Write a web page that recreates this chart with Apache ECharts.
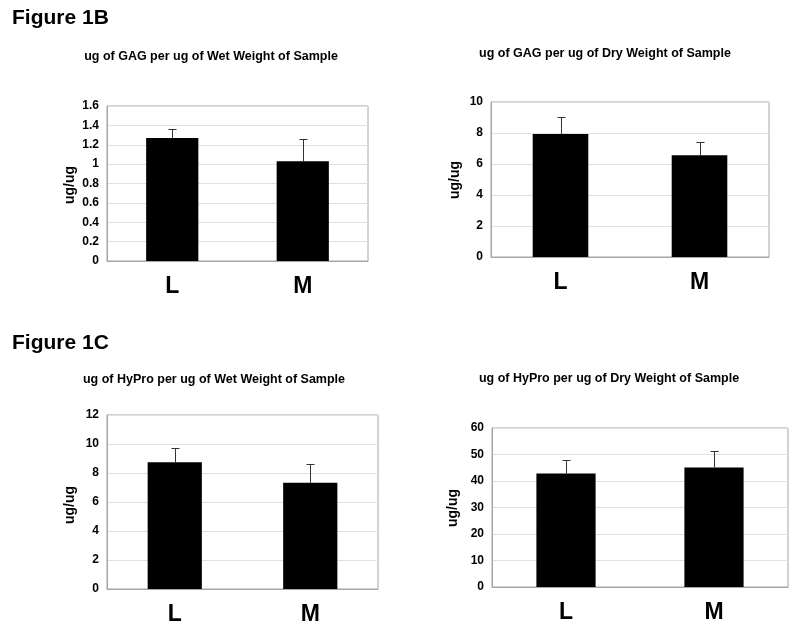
<!DOCTYPE html>
<html><head><meta charset="utf-8">
<script src="https://cdn.jsdelivr.net/npm/echarts@6/dist/echarts.min.js"></script>
<style>html,body{margin:0;padding:0;background:#fff}#c{width:800px;height:628px}</style>
</head><body><div id="c"></div>
<script>
const categories = ['L', 'M'];
const titles = [
  'ug of GAG per ug of Wet Weight of Sample',
  'ug of GAG per ug of Dry Weight of Sample',
  'ug of HyPro per ug of Wet Weight of Sample',
  'ug of HyPro per ug of Dry Weight of Sample'
];
const gagWetMean = [1.27, 1.03];
const gagWetErr = [1.36, 1.255];
const gagDryMean = [7.94, 6.57];
const gagDryErr = [9.06, 7.41];
const hyproWetMean = [8.74, 7.32];
const hyproWetErr = [9.71, 8.61];
const hyproDryMean = [42.8, 45.1];
const hyproDryErr = [47.8, 51.2];
const yMax = [1.6, 10, 12, 60];
const yInterval = [0.2, 2, 2, 10];
const yAxisName = 'ug/ug';
const figureLabels = ['Figure 1B', 'Figure 1C'];

const means = [gagWetMean, gagDryMean, hyproWetMean, hyproDryMean];
const errs = [gagWetErr, gagDryErr, hyproWetErr, hyproDryErr];

const FONT = '"Liberation Sans", Arial, sans-serif';
const grids = [
  {left: 107, top: 106, width: 261, height: 155},
  {left: 491, top: 102, width: 278, height: 155},
  {left: 107, top: 415, width: 271, height: 174},
  {left: 492, top: 428, width: 296, height: 159}
];
const titlePos = [[211, 57], [605, 54], [214, 380], [609, 379]];
const namePos = [[70, 185], [455, 180], [70, 505], [453, 508]];

const option = {
  animation: false,
  backgroundColor: '#fff',
  graphic: [],
  grid: grids.map(g => Object.assign({show: true, borderColor: '#a6a6a6', borderWidth: 1, backgroundColor: '#fff'}, g)),
  xAxis: grids.map((g, i) => ({
    type: 'category', gridIndex: i, data: categories,
    axisLine: {lineStyle: {color: '#a6a6a6'}}, axisTick: {show: false},
    axisLabel: {fontFamily: FONT, fontWeight: 'bold', fontSize: 23, color: '#000', margin: 14}
  })),
  yAxis: grids.map((g, i) => ({
    type: 'value', gridIndex: i, min: 0, max: yMax[i], interval: yInterval[i],
    axisLine: {show: true, lineStyle: {color: '#a6a6a6'}}, axisTick: {show: false},
    splitLine: {lineStyle: {color: '#e0e0e0'}},
    axisLabel: {fontFamily: FONT, fontWeight: 'bold', fontSize: 12, color: '#000', margin: 8}
  })),
  series: []
};

means.forEach((m, i) => {
  option.series.push({
    type: 'bar', xAxisIndex: i, yAxisIndex: i, data: m, barWidth: '40%',
    itemStyle: {color: '#000'}, z: 2
  });
  option.series.push({
    type: 'custom', xAxisIndex: i, yAxisIndex: i, z: 3,
    data: m.map((v, k) => [k, v, errs[i][k]]),
    renderItem: function (params, api) {
      const p0 = api.coord([api.value(0), api.value(1)]);
      const p1 = api.coord([api.value(0), api.value(2)]);
      const x = Math.round(p0[0]) + 0.5;
      const y1 = Math.round(p1[1]) + 0.5;
      return {type: 'group', children: [
        {type: 'line', shape: {x1: x, y1: p0[1], x2: x, y2: y1}, style: {stroke: '#333', lineWidth: 1}},
        {type: 'line', shape: {x1: x - 4, y1: y1, x2: x + 4, y2: y1}, style: {stroke: '#333', lineWidth: 1}}
      ]};
    }
  });
  option.graphic.push({
    type: 'text', x: titlePos[i][0], y: titlePos[i][1],
    style: {text: titles[i], font: 'bold 12.5px ' + FONT, fill: '#000', textAlign: 'center', textVerticalAlign: 'middle'}
  });
  option.graphic.push({
    type: 'text', x: namePos[i][0], y: namePos[i][1], rotation: Math.PI / 2,
    style: {text: yAxisName, font: 'bold 14px ' + FONT, fill: '#000', textAlign: 'center', textVerticalAlign: 'middle'}
  });
});
option.graphic.push({type: 'text', left: 12, top: 8, style: {text: figureLabels[0], font: 'bold 21px ' + FONT, fill: '#000'}});
option.graphic.push({type: 'text', left: 12, top: 333, style: {text: figureLabels[1], font: 'bold 21px ' + FONT, fill: '#000'}});

const chart = echarts.init(document.getElementById('c'), null, {renderer: 'canvas'});
chart.setOption(option);
</script></body></html>
